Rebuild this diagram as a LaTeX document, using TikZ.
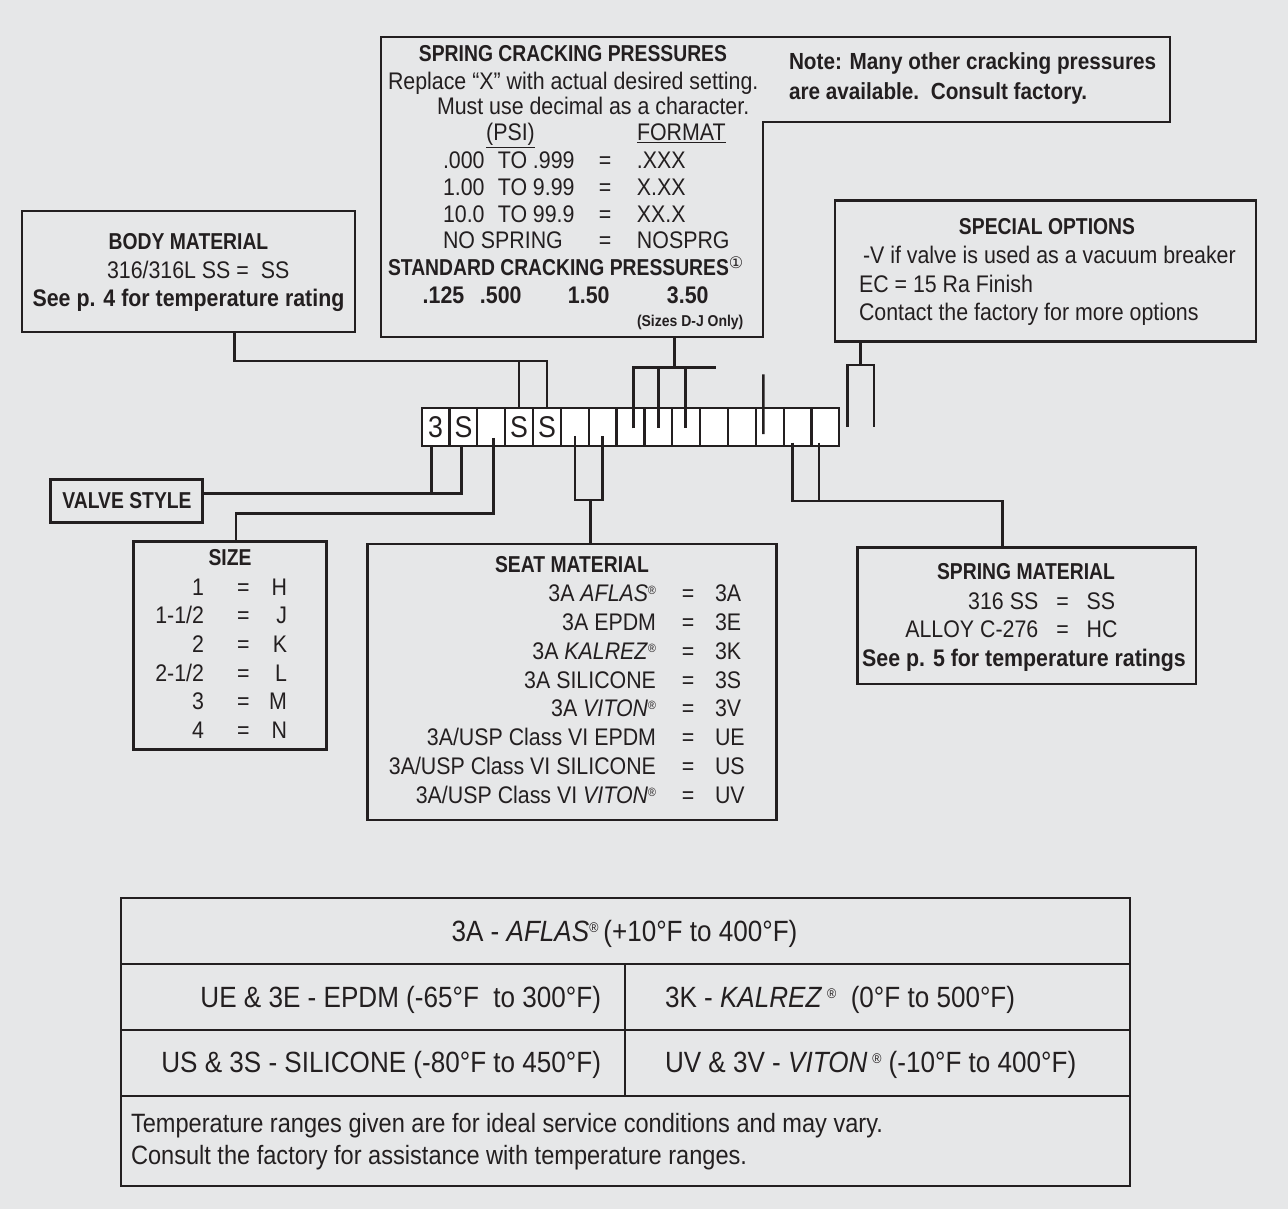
\documentclass[tikz,border=0pt]{standalone}
\usepackage{fontspec}
\setmainfont{Liberation Sans}[FakeStretch=0.89]
\newfontfamily\capsfam{Liberation Sans}[FakeStretch=0.84]
\newfontfamily\symf{DejaVu Sans}
\definecolor{ink}{HTML}{231F20}
\definecolor{bgc}{HTML}{E6E7E8}
\newcommand\fReg{\fontsize{24}{26}\selectfont}
\newcommand\fHead{\capsfam\bfseries\fontsize{23}{26}\selectfont}
\newcommand\fBold{\bfseries\fontsize{24}{26}\selectfont}
\newcommand\fTab{\fontsize{29.3}{32}\selectfont}
\newcommand\fFoot{\fontsize{26.5}{30}\selectfont}
\newcommand\fCell{\fontsize{30}{30}\selectfont}
\newcommand\regm{\raisebox{7pt}{\fontsize{12}{12}\selectfont\upshape ®}}
\newcommand\regt{\raisebox{9pt}{\fontsize{14}{14}\selectfont\upshape ®}}
\newcommand\crow[3]{\makebox[55pt][l]{#1}\makebox[35pt][l]{TO}\makebox[49pt][l]{#2}\makebox[46pt][c]{=}\hspace{9pt}#3}
\begin{document}
\begin{tikzpicture}[x=1pt,y=-1pt,
  box/.style={draw=ink,line width=2.6pt,inner sep=0pt,outer sep=0pt,anchor=north west},
  cell/.style={draw=ink,line width=2.2pt,fill=white,minimum width=27.84pt,minimum height=37.4pt,inner sep=0pt,outer sep=0pt,anchor=north west,font=\fCell,text=ink},
  wire/.style={draw=ink,line width=2.6pt},
  txt/.style={inner sep=0pt,outer sep=0pt,text=ink,font=\fReg,anchor=base},
  hd/.style={txt,font=\fHead},
  bd/.style={txt,font=\fBold},
  tb/.style={txt,font=\fTab},
  ftx/.style={txt,font=\fFoot,anchor=base west},
]
\fill[bgc] (0,0) rectangle (1288,1209);
\useasboundingbox (0,0) rectangle (1288,1209);

% ---------- boxes ----------
\node[box,draw=none,minimum width=382pt,minimum height=300pt] (spring) at (381,37) {};
\node[box,draw=none,minimum width=407pt,minimum height=85pt] (note) at (763,37) {};
\draw[ink,line width=2.6pt] (spring.north west) -- (note.north east) -- (note.south east) -- (note.south west) -- (spring.south east) -- (spring.south west) -- cycle;
\node[box,minimum width=333pt,minimum height=121pt] (body) at (22,211) {};
\node[box,minimum width=421pt,minimum height=141pt] (special) at (835,200.7) {};
\node[box,minimum width=152pt,minimum height=43pt] (valve) at (50.7,479.3) {};
\node[box,minimum width=193.4pt,minimum height=208pt] (size) at (133.3,541.7) {};
\node[box,minimum width=409.4pt,minimum height=276pt] (seat) at (367.3,544) {};
\node[box,minimum width=338.7pt,minimum height=136.7pt] (spmat) at (857.3,547.3) {};
\node[box,minimum width=1009pt,minimum height=288pt] (tbl) at (121,898) {};

% ---------- code cells ----------
\foreach \i/\t in {1/3,2/S,3/,4/S,5/S,6/,7/,8/,9/,10/,11/,12/,13/,14/,15/}
  \node[cell] (c\i) at ({421.7+27.84*(\i-1)},408.3) {\t};

% tick points
\path ([xshift=-3.9pt]c1.south) coordinate (t1)
      ([xshift=-1.8pt]c2.south) coordinate (t2)
      ([xshift=2pt,yshift=7.8pt]c3.south) coordinate (t3)
      ([yshift=9.8pt]c6.south) coordinate (t6)
      ([yshift=9.8pt]c7.south) coordinate (t7)
      ([xshift=2.8pt,yshift=-20pt]c8.north) coordinate (t8)
      ([yshift=-20pt]c9.north) coordinate (t9)
      ([xshift=-0.5pt,yshift=-20pt]c10.north) coordinate (t10)
      ([xshift=-6.4pt,yshift=-25.7pt]c13.north) coordinate (t13)
      ([xshift=-4.8pt,yshift=3pt]c14.south) coordinate (t14)
      ([xshift=-6.4pt,yshift=3pt]c15.south) coordinate (t15);

% ---------- connectors ----------
% body material
\coordinate (jb) at (234.3,361);
\draw[wire] (body.south -| jb) -- (jb) -- (c5.north |- jb) -- (c5.north);
\draw[wire] (c4.north |- jb) -- (c4.north);
% spring cracking pressures
\coordinate (js) at (674.3,367.7);
\coordinate (jsR) at (716,367.7);
\draw[wire] (spring.south -| js) -- (js);
\draw[wire] (t8) -- (t8 |- js) -- (jsR);
\draw[wire] (t9 |- js) -- (t9);
\draw[wire] (t10 |- js) -- (t10);
% lone line into cell 13
\coordinate (f13) at (763.3,374.3);
\draw[wire] (f13) -- (t13);
% special options
\coordinate (sox) at (860.7,365);
\coordinate (so1) at (847.3,426.7);
\coordinate (so2) at (874,426.7);
\draw[wire] (special.south -| sox) -- (sox);
\draw[wire] (so1) -- (so1 |- sox) -- (so2 |- sox) -- (so2);
% valve style
\coordinate (lv) at (0,493.3);
\draw[wire] (valve.east |- lv) -- (t2 |- lv) -- (t2);
\draw[wire] (t1) -- (t1 |- lv);
% size
\coordinate (ls) at (236,513.3);
\draw[wire] (t3) -- (t3 |- ls) -- (ls) -- (size.north -| ls);
% seat material
\coordinate (lseat) at (590.7,500);
\draw[wire] (t6) -- (t6 |- lseat) -- (t7 |- lseat) -- (t7);
\draw[wire] (lseat) -- (seat.north -| lseat);
% spring material
\coordinate (lsm) at (1002.3,501);
\draw[wire] (t14) -- (t14 |- lsm) -- (lsm) -- (spmat.north -| lsm);
\draw[wire] (t15) -- (t15 |- lsm);

% ---------- spring cracking text ----------
\node[hd] (scp1) at (573,62) {SPRING CRACKING PRESSURES};
\node[txt,anchor=base west] (scp2) at (388,90) {Replace “X” with actual desired setting.};
\node[txt,anchor=base west] (scp3) at (437,115) {Must use decimal as a character.};
\node[txt] (scp4) at (510.5,141) {\underline{(PSI)}};
\node[txt,anchor=base west] (scp5) at (637,141) {\underline{FORMAT}};
\node[txt,anchor=base west] (scp6) at (443,169) {\crow{.000}{.999}{.XXX}};
\node[txt,anchor=base west] (scp7) at (443,196) {\crow{1.00}{9.99}{X.XX}};
\node[txt,anchor=base west] (scp8) at (443,222.5) {\crow{10.0}{99.9}{XX.X}};
\node[txt,anchor=base west] (scp9) at (443,249) {\makebox[139pt][l]{NO SPRING}\makebox[46pt][c]{=}\hspace{9pt}NOSPRG};
\node[hd,anchor=base west] (scp10) at (388,276) {STANDARD CRACKING PRESSURES\raisebox{7pt}{\symf\mdseries\fontsize{16}{16}\selectfont ①}};
\node[bd,anchor=base west] (scp11) at (422.7,303) {\makebox[57.3pt][l]{.125}\makebox[88pt][l]{.500}\makebox[99pt][l]{1.50}3.50};
\node[txt,anchor=base west,font=\bfseries\fontsize{15.7}{16}\selectfont] (scp12) at (637,326) {(Sizes D-J Only)};

% ---------- note ----------
\node[bd,anchor=base west,font=\bfseries\fontsize{23.3}{26}\selectfont] (n1) at (789,70) {Note: Many other cracking pressures};
\node[bd,anchor=base west,font=\bfseries\fontsize{23.3}{26}\selectfont] (n2) at (789,100) {are available.\ \ Consult factory.};

% ---------- body material ----------
\node[hd] (bm1) at (188.5,250) {BODY MATERIAL};
\node[txt,anchor=base west] (bm2) at (107,279) {316/316L SS =\ \ SS};
\node[bd] (bm3) at (188.5,306) {See p. 4 for temperature rating};

% ---------- special options ----------
\node[hd] (so1t) at (1047,235) {SPECIAL OPTIONS};
\node[txt,anchor=base west] (so2t) at (863,264) {-V if valve is used as a vacuum breaker};
\node[txt,anchor=base west] (so3t) at (859,292) {EC = 15 Ra Finish};
\node[txt,anchor=base west] (so4t) at (859,320.5) {Contact the factory for more options};

% ---------- valve style ----------
\node[hd] (vs) at (127,508) {VALVE STYLE};

% ---------- size ----------
\node[hd] (szh) at (230,565) {SIZE};
\foreach \n/\y/\l/\r in {1/595/1/H,2/623.7/1-1\slash 2/J,3/652.4/2/K,4/681.1/2-1\slash 2/L,5/709.8/3/M,6/738.5/4/N}{
  \node[txt,anchor=base east] (szl\n) at (204,\y) {\l};
  \node[txt] (sze\n) at (243.3,\y) {=};
  \node[txt,anchor=base east] (szr\n) at (287,\y) {\r};
}

% ---------- seat material ----------
\node[hd] (smh) at (572,572.5) {SEAT MATERIAL};
\foreach \n/\l/\r in {0/{3A \textit{AFLAS}\regm}/3A,1/3A EPDM/3E,2/{3A \textit{KALREZ}\regm}/3K,3/3A SILICONE/3S,4/{3A \textit{VITON}\regm}/3V,5/3A\slash USP Class VI EPDM/UE,6/3A\slash USP Class VI SILICONE/US,7/{3A\slash USP Class VI \textit{VITON}\regm}/UV}{
  \node[txt,anchor=base east] (sml\n) at (656,{601.7+28.8*\n}) {\l};
  \node[txt] (sme\n) at (688,{601.7+28.8*\n}) {=};
  \node[txt,anchor=base west] (smr\n) at (715,{601.7+28.8*\n}) {\r};
}

% ---------- spring material ----------
\node[hd] (spm1) at (1026,579) {SPRING MATERIAL};
\node[txt,anchor=base east] (spm2l) at (1038.3,609) {316 SS};
\node[txt] (spm2e) at (1062.7,609) {=};
\node[txt,anchor=base west] (spm2r) at (1086.7,609) {SS};
\node[txt,anchor=base east] (spm3l) at (1038.3,637.5) {ALLOY C-276};
\node[txt] (spm3e) at (1062.7,637.5) {=};
\node[txt,anchor=base west] (spm3r) at (1086.7,637.5) {HC};
\node[bd] (spm4) at (1024,666.5) {See p. 5 for temperature ratings};

% ---------- table ----------
\coordinate (r1) at (625,964);
\coordinate (r2) at (625,1030);
\coordinate (r3) at (625,1096);
\draw[wire] (tbl.west |- r1) -- (tbl.east |- r1);
\draw[wire] (tbl.west |- r2) -- (tbl.east |- r2);
\draw[wire] (tbl.west |- r3) -- (tbl.east |- r3);
\draw[wire] (r1) -- (r3);
\node[tb] (tb1) at (624.5,941) {3A - \textit{AFLAS}\regt\,(+10°F to 400°F)};
\node[tb,anchor=base east] (tb2) at (601,1007) {UE \& 3E - EPDM (-65°F\ \ to 300°F)};
\node[tb,anchor=base west] (tb3) at (665,1007) {3K - \textit{KALREZ}\,\regt\ \ (0°F to 500°F)};
\node[tb,anchor=base east] (tb4) at (601,1072) {US \& 3S - SILICONE (-80°F to 450°F)};
\node[tb,anchor=base west] (tb5) at (665,1072) {UV \& 3V - \textit{VITON}\,\regt\ (-10°F to 400°F)};
\node[ftx] (tb6) at (131,1132) {Temperature ranges given are for ideal service conditions and may vary.};
\node[ftx] (tb7) at (131,1164) {Consult the factory for assistance with temperature ranges.};
\end{tikzpicture}
\end{document}
